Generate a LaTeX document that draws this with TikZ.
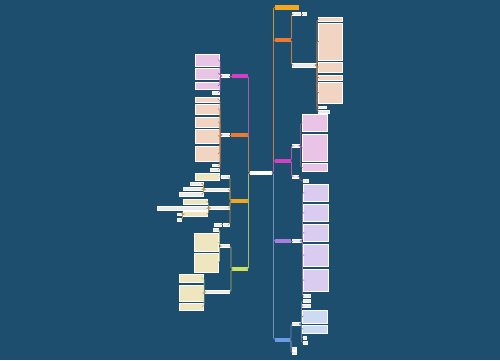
\documentclass[tikz,border=0pt]{standalone}
\usetikzlibrary{shadows}

\definecolor{bgc}{RGB}{30,78,110}
\definecolor{amberC}{RGB}{244,168,29}
\definecolor{orangeC}{RGB}{238,122,47}
\definecolor{magC}{RGB}{214,63,196}
\definecolor{purC}{RGB}{172,125,224}
\definecolor{blueC}{RGB}{107,154,232}
\definecolor{limeC}{RGB}{207,224,90}
\definecolor{pinkT}{RGB}{234,196,230}
\definecolor{oranT}{RGB}{242,212,194}
\definecolor{yellT}{RGB}{238,230,190}
\definecolor{lavT}{RGB}{218,204,240}
\definecolor{bluT}{RGB}{204,218,242}

\tikzset{
  base/.style = {rectangle, inner sep=0pt, outer sep=0pt},
  main/.style = {base, fill=#1},
  topic/.style = {base, fill=white},
  tag/.style = {base, fill=white!92!black, draw=white, line width=0.2pt},
  leaf/.style = {base, fill=#1, draw=white, line width=0.4pt,
                 drop shadow={shadow xshift=0.7pt, shadow yshift=-0.7pt, opacity=0.5}},
  lk/.style = {draw=#1!60!gray, line width=0.55pt, rounded corners=1.5pt}
}

\begin{document}
\begin{tikzpicture}[x=1pt, y=-1pt]
\useasboundingbox[fill=bgc] (0,0) rectangle (500,360);

% centre
\node[topic, minimum width=22, minimum height=4.5] (c) at (261,172.75) {};

% right main topics
\node[main=amberC, minimum width=24, minimum height=5] (R1) at (286.5,7) {};
\node[main=orangeC, minimum width=16, minimum height=4.5] (R2) at (282.5,39.75) {};
\node[main=magC, minimum width=16, minimum height=4] (R3) at (282.5,160.5) {};
\node[main=purC, minimum width=16, minimum height=4] (R4) at (282.5,241) {};
\node[main=blueC, minimum width=15.5, minimum height=4] (R5) at (282.25,339.5) {};

% left main topics
\node[main=magC, minimum width=15.5, minimum height=4] (L1) at (239.75,76) {};
\node[main=orangeC, minimum width=16.5, minimum height=4] (L2) at (239.25,135) {};
\node[main=amberC, minimum width=16.5, minimum height=4] (L3) at (239.25,201) {};
\node[main=limeC, minimum width=15.5, minimum height=4] (L4) at (239.75,269.25) {};

% R2 branch
\node[tag, minimum width=8, minimum height=3] (r2a) at (296.5,14) {};
\node[tag, minimum width=4, minimum height=3] (r2a1) at (304.5,14) {};
\node[tag, minimum width=23.5, minimum height=3.5] (r2b) at (304.25,65.25) {};
\node[leaf=oranT, minimum width=24, minimum height=4] (r2b1) at (330,19.5) {};
\node[leaf=oranT, minimum width=24, minimum height=37] (r2b2) at (330,41.5) {};
\node[leaf=oranT, minimum width=24, minimum height=10] (r2b3) at (330,67) {};
\node[leaf=oranT, minimum width=24, minimum height=5] (r2b4) at (330,77.5) {};
\node[leaf=oranT, minimum width=24, minimum height=21] (r2b5) at (330,92.5) {};
\node[tag, minimum width=8, minimum height=2.5] (r2b6) at (322,107.25) {};
\node[tag, minimum width=11, minimum height=2.5] (r2b7) at (323.5,111.75) {};

% R3 branch
\node[tag, minimum width=7, minimum height=3] (r3a) at (296,145.5) {};
\node[leaf=pinkT, minimum width=25, minimum height=17] (r3a1) at (314.5,123) {};
\node[leaf=pinkT, minimum width=25, minimum height=27.5] (r3a2) at (314.5,147.75) {};
\node[leaf=pinkT, minimum width=25, minimum height=8] (r3a3) at (314.5,167.5) {};
\node[tag, minimum width=6, minimum height=3] (r3b) at (295.5,176.5) {};
\node[tag, minimum width=5, minimum height=2.5] (r3b1) at (305.5,180.75) {};

% R4 branch
\node[tag, minimum width=9, minimum height=3] (r4a) at (297,241) {};
\node[leaf=lavT, minimum width=25, minimum height=17.5] (r4a1) at (315.5,192.75) {};
\node[leaf=lavT, minimum width=25, minimum height=17.5] (r4a2) at (315.5,212.75) {};
\node[leaf=lavT, minimum width=25, minimum height=17.5] (r4a3) at (315.5,232.75) {};
\node[leaf=lavT, minimum width=25, minimum height=22.5] (r4a4) at (315.5,255.25) {};
\node[leaf=lavT, minimum width=25, minimum height=22.5] (r4a5) at (315.5,280.25) {};
\node[tag, minimum width=7, minimum height=3] (r4a6) at (306.5,296) {};

% R5 branch
\node[tag, minimum width=8, minimum height=3] (r5a) at (296.5,324) {};
\node[tag, minimum width=7.5, minimum height=3] (r5a1) at (306.75,301) {};
\node[tag, minimum width=8, minimum height=3] (r5a2) at (306,306) {};
\node[leaf=bluT, minimum width=25, minimum height=13] (r5a3) at (314.5,316.5) {};
\node[leaf=bluT, minimum width=25, minimum height=8] (r5a4) at (314.5,329) {};
\node[tag, minimum width=3, minimum height=2.5] (r5a5) at (304.5,337.75) {};
\node[tag, minimum width=4, minimum height=2.5] (r5a6) at (305,342.75) {};
\node[tag, minimum width=3.5, minimum height=3] (r5b) at (294.25,348.5) {};
\node[tag, minimum width=3.5, minimum height=3] (r5c) at (294.25,353) {};

% L1 branch
\node[tag, minimum width=8, minimum height=3] (l1a) at (225,76) {};
\node[leaf=pinkT, minimum width=24, minimum height=12] (l1a1) at (207,60) {};
\node[leaf=pinkT, minimum width=24, minimum height=11] (l1a2) at (207,73.5) {};
\node[leaf=pinkT, minimum width=24, minimum height=7] (l1a3) at (207,85.5) {};
\node[tag, minimum width=7, minimum height=3] (l1a4) at (215.5,92.5) {};

% L2 branch
\node[tag, minimum width=8, minimum height=3] (l2a) at (225,135) {};
\node[leaf=oranT, minimum width=24, minimum height=5] (l2a1) at (207,99.5) {};
\node[leaf=oranT, minimum width=24, minimum height=10] (l2a2) at (207,109) {};
\node[leaf=oranT, minimum width=24, minimum height=10] (l2a3) at (207,122) {};
\node[leaf=oranT, minimum width=24, minimum height=14] (l2a4) at (207,136) {};
\node[leaf=oranT, minimum width=24, minimum height=15] (l2a5) at (207,153.5) {};
\node[tag, minimum width=7, minimum height=2.5] (l2a6) at (215.5,165.25) {};
\node[tag, minimum width=9, minimum height=2.5] (l2a7) at (214.5,169.75) {};

% L3 branch
\node[tag, minimum width=8, minimum height=3] (l3a) at (225,177) {};
\node[leaf=yellT, minimum width=24, minimum height=6.5] (l3a1) at (207,176.75) {};
\node[tag, minimum width=25, minimum height=3] (l3b) at (216.5,189.5) {};
\node[tag, minimum width=13, minimum height=3] (l3b1) at (196.5,183.5) {};
\node[tag, minimum width=20, minimum height=3] (l3b2) at (193,189) {};
\node[tag, minimum width=24, minimum height=4] (l3b3) at (191,194) {};
\node[tag, minimum width=20, minimum height=3] (l3c) at (219,208) {};
\node[leaf=yellT, minimum width=24.5, minimum height=5.5] (l3c1) at (195.25,201.75) {};
\node[tag, minimum width=50.5, minimum height=4] (l3c2) at (182.25,208.5) {};
\node[leaf=yellT, minimum width=24.5, minimum height=5] (l3c3) at (195.25,214) {};
\node[tag, minimum width=4, minimum height=2.5] (l3c3a) at (179,214.25) {};
\node[tag, minimum width=4, minimum height=2.5] (l3c3b) at (179,219.5) {};
\node[tag, minimum width=6, minimum height=3] (l3d) at (226,224.5) {};
\node[tag, minimum width=7, minimum height=3] (l3d1) at (217.5,224.5) {};

% L4 branch
\node[tag, minimum width=9, minimum height=3] (l4a) at (224.5,246) {};
\node[tag, minimum width=5, minimum height=3] (l4a1) at (215.5,229.5) {};
\node[leaf=yellT, minimum width=24, minimum height=18] (l4a2) at (206,242) {};
\node[leaf=yellT, minimum width=24, minimum height=19] (l4a3) at (206,262.5) {};
\node[tag, minimum width=24, minimum height=3] (l4b) at (217,292) {};
\node[leaf=yellT, minimum width=24, minimum height=8] (l4b1) at (191,278) {};
\node[leaf=yellT, minimum width=24, minimum height=16] (l4b2) at (191,293) {};
\node[leaf=yellT, minimum width=24, minimum height=7] (l4b3) at (191,306.5) {};

% links from the centre
\draw[lk=amberC] (c.east) -- ++(1.5,0) |- (R1.west);
\draw[lk=orangeC] (c.east) -- ++(1.5,0) |- (R2.west);
\draw[lk=magC] (c.east) -- ++(1.5,0) |- (R3.west);
\draw[lk=purC] (c.east) -- ++(1.5,0) |- (R4.west);
\draw[lk=blueC] (c.east) -- ++(1.5,0) |- (R5.west);
\draw[lk=magC] (c.west) -- ++(-1.5,0) |- (L1.east);
\draw[lk=orangeC] (c.west) -- ++(-1.5,0) |- (L2.east);
\draw[lk=amberC] (c.west) -- ++(-1.5,0) |- (L3.east);
\draw[lk=limeC] (c.west) -- ++(-1.5,0) |- (L4.east);

% right side links
\foreach \n in {r2a,r2b} \draw[lk=orangeC] (R2.east) -- ++(1,0) |- (\n.west);
\draw[lk=orangeC] (r2a.east) -- (r2a1.west);
\foreach \n in {r2b1,r2b2,r2b3,r2b4,r2b5,r2b6,r2b7}
  \draw[lk=orangeC] (r2b.east) -- ++(1,0) |- (\n.west);
\foreach \n in {r3a,r3b} \draw[lk=magC] (R3.east) -- ++(1,0) |- (\n.west);
\foreach \n in {r3a1,r3a2,r3a3} \draw[lk=magC] (r3a.east) -- ++(1.2,0) |- (\n.west);
\draw[lk=magC] (r3b.east) -- ++(1.2,0) |- (r3b1.west);
\draw[lk=purC] (R4.east) -- (r4a.west);
\foreach \n in {r4a1,r4a2,r4a3,r4a4,r4a5,r4a6}
  \draw[lk=purC] (r4a.east) -- ++(0.8,0) |- (\n.west);
\foreach \n in {r5a,r5b,r5c} \draw[lk=blueC] (R5.east) -- ++(1,0) |- (\n.west);
\foreach \n in {r5a1,r5a2,r5a3,r5a4,r5a5,r5a6}
  \draw[lk=blueC] (r5a.east) -- ++(0.8,0) |- (\n.west);

% left side links
\draw[lk=magC] (L1.west) -- (l1a.east);
\foreach \n in {l1a1,l1a2,l1a3,l1a4} \draw[lk=magC] (l1a.west) -- ++(-1,0) |- (\n.east);
\draw[lk=orangeC] (L2.west) -- (l2a.east);
\foreach \n in {l2a1,l2a2,l2a3,l2a4,l2a5,l2a6,l2a7}
  \draw[lk=orangeC] (l2a.west) -- ++(-1,0) |- (\n.east);
\foreach \n in {l3a,l3b,l3c,l3d} \draw[lk=amberC] (L3.west) -- ++(-1,0) |- (\n.east);
\draw[lk=amberC] (l3a.west) -- (l3a1.east);
\foreach \n in {l3b1,l3b2,l3b3} \draw[lk=amberC] (l3b.west) -- ++(-0.5,0) |- (\n.east);
\foreach \n in {l3c1,l3c2,l3c3} \draw[lk=amberC] (l3c.west) -- ++(-0.6,0) |- (\n.east);
\foreach \n in {l3c3a,l3c3b} \draw[lk=amberC] (l3c3.west) -- ++(-0.5,0) |- (\n.east);
\draw[lk=amberC] (l3d.west) -- (l3d1.east);
\foreach \n in {l4a,l4b} \draw[lk=limeC] (L4.west) -- ++(-1,0) |- (\n.east);
\foreach \n in {l4a1,l4a2,l4a3} \draw[lk=limeC] (l4a.west) -- ++(-0.5,0) |- (\n.east);
\foreach \n in {l4b1,l4b2,l4b3} \draw[lk=limeC] (l4b.west) -- ++(-1,0) |- (\n.east);
\end{tikzpicture}
\end{document}
